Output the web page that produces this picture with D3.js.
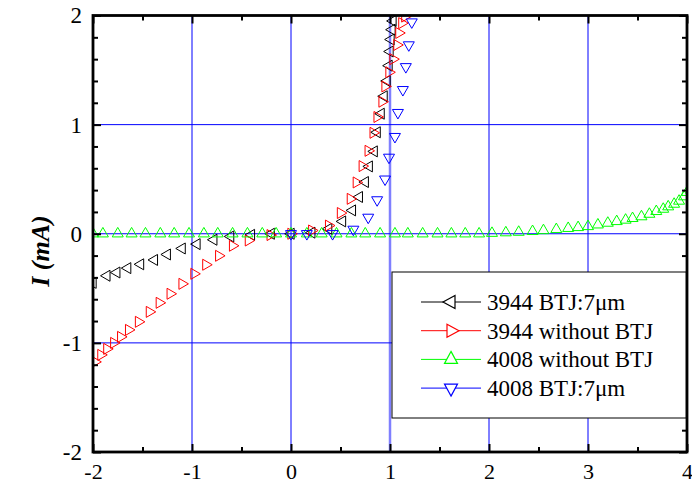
<!DOCTYPE html>
<html>
<head>
<meta charset="utf-8">
<script src="https://cdn.jsdelivr.net/npm/d3@7"></script>
<style>
  html, body { margin: 0; padding: 0; background: #fff; }
  svg { display: block; }
</style>
</head>
<body>
<div id="chart"></div>
<script>
// 3944 BTJ:7um
const blackV = [-2.00, -1.86, -1.76, -1.65, -1.52, -1.38, -1.25, -1.10, -0.95, -0.78, -0.61, -0.40, -0.20, 0.00, 0.21, 0.38, 0.52, 0.62, 0.69, 0.75, 0.79, 0.84, 0.87, 0.91, 0.94, 0.97, 0.99, 1.00, 1.01, 1.02, 1.03];
const blackI = [-0.45, -0.385, -0.355, -0.315, -0.28, -0.24, -0.19, -0.135, -0.095, -0.055, -0.025, -0.01, 0.0, 0.0, 0.01, 0.045, 0.113, 0.214, 0.337, 0.474, 0.617, 0.755, 0.93, 1.10, 1.26, 1.40, 1.54, 1.67, 1.78, 1.87, 1.95];

// 3944 without BTJ
const redV = [-1.98, -1.92, -1.86, -1.79, -1.72, -1.64, -1.54, -1.43, -1.33, -1.22, -1.10, -0.98, -0.86, -0.73, -0.59, -0.43, -0.21, 0.00, 0.21, 0.38, 0.50, 0.60, 0.66, 0.72, 0.78, 0.83, 0.87, 0.92, 0.95, 0.99, 1.03, 1.07, 1.09, 1.12, 1.15];
const redI = [-1.174, -1.11, -1.055, -1.0, -0.945, -0.881, -0.807, -0.716, -0.633, -0.55, -0.459, -0.367, -0.284, -0.202, -0.11, -0.062, -0.012, 0.0, 0.03, 0.075, 0.19, 0.32, 0.47, 0.62, 0.76, 0.925, 1.07, 1.21, 1.35, 1.48, 1.60, 1.73, 1.84, 1.93, 1.99];

// 4008 without BTJ
const greenV = [-2.00, -1.90, -1.75, -1.61, -1.47, -1.32, -1.18, -1.03, -0.88, -0.74, -0.59, -0.44, -0.29, -0.15, 0.00, 0.16, 0.31, 0.46, 0.61, 0.75, 0.90, 1.05, 1.18, 1.33, 1.48, 1.62, 1.76, 1.90, 2.03, 2.17, 2.30, 2.44, 2.55, 2.68, 2.80, 2.90, 3.00, 3.10, 3.20, 3.29, 3.38, 3.45, 3.54, 3.62, 3.69, 3.76, 3.81, 3.87, 3.92, 3.97, 4.00];
const greenI = [0, 0, 0, 0, 0, 0, 0, 0, 0, 0, 0, 0, 0, 0, 0, 0, 0, 0, 0, 0, 0, 0, 0, 0, 0, 0, 0, 0, 0.005, 0.01, 0.015, 0.022, 0.03, 0.04, 0.05, 0.058, 0.067, 0.082, 0.098, 0.113, 0.126, 0.141, 0.157, 0.18, 0.205, 0.226, 0.248, 0.272, 0.30, 0.34, 0.38];

// 4008 BTJ:7um
const blueV = [0.00, 0.16, 0.42, 0.63, 0.78, 0.87, 0.95, 0.99, 1.05, 1.08, 1.13, 1.16, 1.19, 1.22];
const blueI = [0.0, 0.0, 0.0, 0.04, 0.15, 0.31, 0.50, 0.70, 0.89, 1.11, 1.32, 1.53, 1.73, 1.94];

const seriesNames = ['3944 BTJ:7\u03bcm', '3944 without BTJ', '4008 without BTJ', '4008 BTJ:7\u03bcm'];
const xTicks = [-2, -1, 0, 1, 2, 3, 4];
const yTicks = [-2, -1, 0, 1, 2];

const series = [
  { name: seriesNames[0], v: blackV, i: blackI, color: '#000000', shape: 'left' },
  { name: seriesNames[1], v: redV, i: redI, color: '#ff0000', shape: 'right' },
  { name: seriesNames[2], v: greenV, i: greenI, color: '#00ff00', shape: 'up' },
  { name: seriesNames[3], v: blueV, i: blueI, color: '#0000ff', shape: 'down' },
];

const cw = 692, ch = 484;
const margin = { top: 15.5, right: 5, bottom: 32, left: 93 };
const w = cw - margin.left - margin.right;
const h = ch - margin.top - margin.bottom;
const font = 'Liberation Serif, Times New Roman, serif';

// triangle centred on its centroid
function tri(shape, bw, bh) {
  let p;
  if (shape === 'up') p = [[0, -2 * bh / 3], [bw / 2, bh / 3], [-bw / 2, bh / 3]];
  else if (shape === 'down') p = [[0, 2 * bh / 3], [bw / 2, -bh / 3], [-bw / 2, -bh / 3]];
  else if (shape === 'right') p = [[2 * bh / 3, 0], [-bh / 3, -bw / 2], [-bh / 3, bw / 2]];
  else p = [[-2 * bh / 3, 0], [bh / 3, -bw / 2], [bh / 3, bw / 2]];
  return 'M' + p.map(d => d.join(',')).join('L') + 'Z';
}

const svg = d3.select('#chart').append('svg')
  .attr('width', cw).attr('height', ch);

const g = svg.append('g')
  .attr('transform', `translate(${margin.left},${margin.top})`);

const xScale = d3.scaleLinear().domain([-2, 4]).range([0, w]);
const yScale = d3.scaleLinear().domain([-2, 2]).range([h, 0]);

svg.append('defs').append('clipPath').attr('id', 'clip')
  .append('rect').attr('width', w).attr('height', h);

// grid
[-1, 0, 2, 3].forEach(v => {
  g.append('line')
    .attr('x1', xScale(v)).attr('x2', xScale(v))
    .attr('y1', 0).attr('y2', h)
    .attr('stroke', '#0000ff').attr('stroke-width', 1);
});
g.append('line')
  .attr('x1', xScale(1)).attr('x2', xScale(1))
  .attr('y1', 0).attr('y2', h)
  .attr('stroke', '#7f7fff').attr('stroke-width', 2.5);
[-1, 0, 1].forEach(v => {
  g.append('line')
    .attr('x1', 0).attr('x2', w)
    .attr('y1', yScale(v)).attr('y2', yScale(v))
    .attr('stroke', '#0000ff').attr('stroke-width', 1);
});

// data markers
const plot = g.append('g').attr('clip-path', 'url(#clip)');
series.forEach(s => {
  const pts = s.v.map((v, k) => ({ v: v, i: s.i[k] }));
  plot.selectAll(null)
    .data(pts)
    .join('path')
    .attr('d', tri(s.shape, 11, 9.5))
    .attr('transform', d => `translate(${xScale(d.v)},${yScale(d.i)})`)
    .attr('fill', 'none')
    .attr('stroke', s.color)
    .attr('stroke-width', 1);
});

// axes, ticks inward on all four sides
function styleAxis(sel, size) {
  sel.select('.domain').remove();
  sel.selectAll('.tick line').attr('stroke', '#000').attr('stroke-width', 2);
  sel.selectAll('.tick text')
    .attr('font-family', font).attr('font-size', (size || 23) + 'px').attr('fill', '#000');
}
const fmt = d => String(d);
const xMinor = d3.range(-1.5, 4, 1);
const yMinor = d3.range(-2, 2.001, 0.2).filter(v => Math.abs(v - Math.round(v)) > 0.01);

g.append('g').attr('transform', `translate(0,${h})`)
  .call(d3.axisBottom(xScale).tickValues(xTicks).tickSize(-8).tickPadding(11).tickFormat(fmt))
  .call(styleAxis, 22);
g.append('g').attr('transform', `translate(0,${h})`)
  .call(d3.axisBottom(xScale).tickValues(xMinor).tickSize(-5).tickFormat(''))
  .call(styleAxis);
g.append('g')
  .call(d3.axisTop(xScale).tickValues(xTicks).tickSize(-8).tickFormat(''))
  .call(styleAxis);
g.append('g')
  .call(d3.axisTop(xScale).tickValues(xMinor).tickSize(-5).tickFormat(''))
  .call(styleAxis);
g.append('g')
  .call(d3.axisLeft(yScale).tickValues(yTicks).tickSize(-8).tickPadding(11).tickFormat(fmt))
  .call(styleAxis);
g.append('g')
  .call(d3.axisLeft(yScale).tickValues(yMinor).tickSize(-5).tickFormat(''))
  .call(styleAxis);
g.append('g').attr('transform', `translate(${w},0)`)
  .call(d3.axisRight(yScale).tickValues(yTicks).tickSize(-8).tickFormat(''))
  .call(styleAxis);
g.append('g').attr('transform', `translate(${w},0)`)
  .call(d3.axisRight(yScale).tickValues(yMinor).tickSize(-5).tickFormat(''))
  .call(styleAxis);

// frame
g.append('rect')
  .attr('width', w).attr('height', h)
  .attr('fill', 'none').attr('stroke', '#000').attr('stroke-width', 2.8);

// y label
svg.append('text')
  .attr('transform', 'translate(49,251) rotate(-90)')
  .attr('text-anchor', 'middle')
  .attr('font-family', font).attr('font-size', '26px')
  .attr('font-weight', 'bold').attr('font-style', 'italic')
  .text('I (mA)');

// legend
const lg = svg.append('g').attr('transform', 'translate(392,272)');
lg.append('rect').attr('width', 294).attr('height', 146)
  .attr('fill', '#fff').attr('stroke', '#000').attr('stroke-width', 1);
series.forEach((s, k) => {
  const yy = 30 + k * 28.7;
  lg.append('line').attr('x1', 29).attr('x2', 89).attr('y1', yy).attr('y2', yy)
    .attr('stroke', s.color).attr('stroke-width', 1);
  lg.append('path').attr('d', tri(s.shape, 13, 12))
    .attr('transform', `translate(59,${yy})`)
    .attr('fill', '#fff').attr('stroke', s.color).attr('stroke-width', 1.2);
  lg.append('text').attr('x', 95).attr('y', yy + 8)
    .attr('font-family', font).attr('font-size', '23px').attr('fill', '#000')
    .text(s.name);
});
</script>
</body>
</html>
